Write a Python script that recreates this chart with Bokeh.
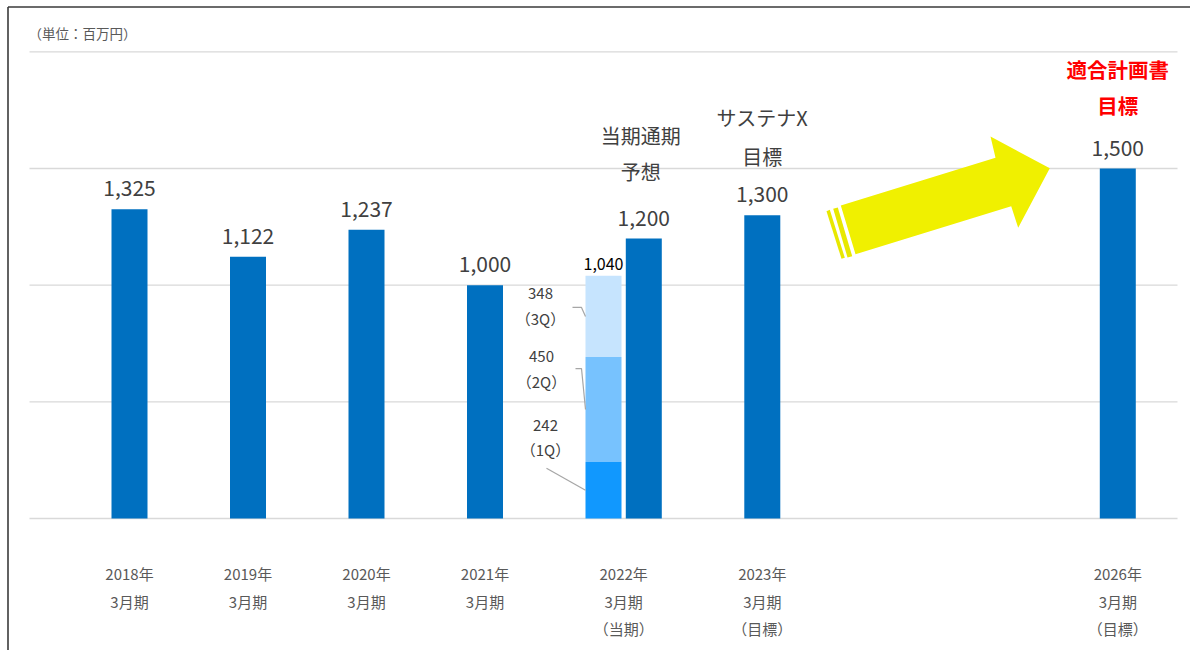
from bokeh.plotting import figure
from bokeh.models import ColumnDataSource, Range1d
from bokeh.core.properties import value
from bokeh.embed import file_html
from bokeh.resources import INLINE

# ---------------- data ----------------
period_year = ["2018年", "2019年", "2020年", "2021年", "2022年", "2023年", "2026年"]
period_month = ["3月期", "3月期", "3月期", "3月期", "3月期", "3月期", "3月期"]
period_note = ["", "", "", "", "（当期）", "（目標）", "（目標）"]
annual_values = [1325, 1122, 1237, 1000, 1200, 1300, 1500]
quarter_values = [242, 450, 348]
quarter_names = ["（1Q）", "（2Q）", "（3Q）"]
quarter_total_label = "1,040"
grid_ticks = [0, 500, 1000, 1500, 2000]
unit_text = "（単位：百万円）"
note_forecast = ["当期通期", "予想"]
note_sustena = ["サステナX", "目標"]
note_plan = ["適合計画書", "目標"]

# ---------------- layout ----------------
W, H = 1190, 650
SX = 118.5            # px per category slot
SY = 350 / 1500       # px per value unit
PAGE = 0
OX, OY = 129 - PAGE, 518 - PAGE   # canvas px of slot 0 / value 0

bar_slots = [0, 1, 2, 3, 4.34, 5.34, 8.34]
label_slots = [0, 1, 2, 3, 4.17, 5.34, 8.34]
stack_slot = 4.0
BAR_W = 36 / SX

JP = "Noto Sans CJK JP"
MAIN = "#0070C0"
Q_COLORS = ["#1198FE", "#77C2FE", "#C6E4FE"]
GRID = "#D9D9D9"
TXT = "#404040"
LBL = "#595959"


def ux(px):
    return (px - PAGE - OX) / SX


def vy(py):
    return (OY - (py - PAGE)) / SY


p = figure(width=W, height=H, output_backend="svg", toolbar_location=None,
           x_range=Range1d(-OX / SX, (W - OX) / SX),
           y_range=Range1d(-(H - OY) / SY, OY / SY),
           min_border=0, outline_line_color=None)
p.axis.visible = False
p.grid.visible = False
p.background_fill_color = "white"

# border (top and left)
p.segment(x0=[ux(7.5), ux(7.5)], y0=[p.y_range.start, vy(6.5)],
          x1=[ux(7.5), p.x_range.end], y1=[vy(6.5), vy(6.5)],
          line_color="#3A3A3A", line_width=1.6)

# gridlines
p.segment(x0=[ux(29)] * len(grid_ticks), y0=grid_ticks,
          x1=[ux(1177)] * len(grid_ticks), y1=grid_ticks,
          line_color=GRID, line_width=1.3)

# unit label
p.text(x=[ux(28)], y=[grid_ticks[-1]], text=[unit_text], y_offset=-19,
       text_font=value(JP), text_font_size="13.5px", text_color=LBL,
       text_align="left", text_baseline="middle")

# main bars
src = ColumnDataSource(dict(x=bar_slots, top=annual_values,
                            lab=[f"{v:,}" for v in annual_values]))
p.vbar(x="x", top="top", bottom=0, width=BAR_W, source=src,
       fill_color=MAIN, line_color=None)
p.text(x="x", y="top", text="lab", source=src, y_offset=-21,
       text_font=value(JP), text_font_size="21px", text_color=TXT,
       text_align="center", text_baseline="alphabetic")

# stacked quarters
bottoms, tops, mids = [], [], []
acc = 0
for v in quarter_values:
    bottoms.append(acc)
    acc += v
    tops.append(acc)
    mids.append((bottoms[-1] + tops[-1]) / 2)
p.vbar(x=[stack_slot] * 3, bottom=bottoms, top=tops, width=BAR_W,
       fill_color=Q_COLORS, line_color=None)
p.text(x=[stack_slot], y=[tops[-1]], text=[quarter_total_label], y_offset=-12,
       text_font=value(JP), text_font_size="16px", text_color="#000000",
       text_align="center", text_baseline="alphabetic")

# quarter labels & leader lines
left = stack_slot - BAR_W / 2
leader_px = [[(-39, -22), (0, 0)],
             [(-10, -41), (-4, -41), (0, 0)],
             [(-13, -9), (-4, -9), (0, 0)]]
lx, ly = [], []
for m, pts in zip(mids, leader_px):
    lx.append([left + dx / SX for dx, dy in pts])
    ly.append([m - dy / SY for dx, dy in pts])
p.multi_line(xs=lx, ys=ly, line_color="#A6A6A6", line_width=1.2)

val_off = [(-40, -65), (-44, -53), (-45, -23)]
name_off = [(-40, -41), (-44, -28), (-45, 2)]
qsrc = ColumnDataSource(dict(
    x=[left] * 6, y=mids + mids,
    t=[str(v) for v in quarter_values] + quarter_names,
    xo=[o[0] for o in val_off] + [o[0] for o in name_off],
    yo=[o[1] for o in val_off] + [o[1] for o in name_off]))
p.text(x="x", y="y", text="t", x_offset="xo", y_offset="yo", source=qsrc,
       text_font=value(JP), text_font_size="15px", text_color=TXT,
       text_align="center", text_baseline="middle")

# notes above bars
def note(slot, top, lines, offsets, color, size, style="normal", xo=0):
    p.text(x=[slot] * len(lines), y=[top] * len(lines), text=lines,
           y_offset=offsets, x_offset=xo,
           text_font=value(JP), text_font_size=size, text_color=color,
           text_font_style=style, text_align="center", text_baseline="middle")

note(bar_slots[4], annual_values[4], note_forecast, [-103, -67], TXT, "20px", xo=-3)
note(bar_slots[5], annual_values[5], note_sustena, [-98, -59], TXT, "20px")
note(bar_slots[6], annual_values[6], note_plan, [-100, -64], "#FF0000", "20.5px", "bold")

# x labels
for lines, off in ((period_year, 55), (period_month, 83), (period_note, 110)):
    p.text(x=label_slots, y=[0] * len(lines), text=lines, y_offset=off,
           text_font=value(JP), text_font_size="15px", text_color=LBL,
           text_align="center", text_baseline="middle")

# yellow arrow
arrow_px = [(840.3, 205), (995, 157.3), (990, 136), (1049.3, 167.7),
            (1017.7, 227.3), (1010.7, 205.7), (855, 253.7)]
stripe1 = [(826, 210.7), (829.3, 209.3), (844.3, 257.3), (841, 258.3)]
stripe2 = [(832.7, 208.3), (837.3, 207), (851.7, 255.7), (847, 257)]
shapes = [arrow_px, stripe1, stripe2]
p.patches(xs=[[ux(a) for a, b in s] for s in shapes],
          ys=[[vy(b) for a, b in s] for s in shapes],
          fill_color=["#F0F000", "#E8E800", "#E8E800"], line_color=None)

open("out.html", "w").write(file_html(p, INLINE))
